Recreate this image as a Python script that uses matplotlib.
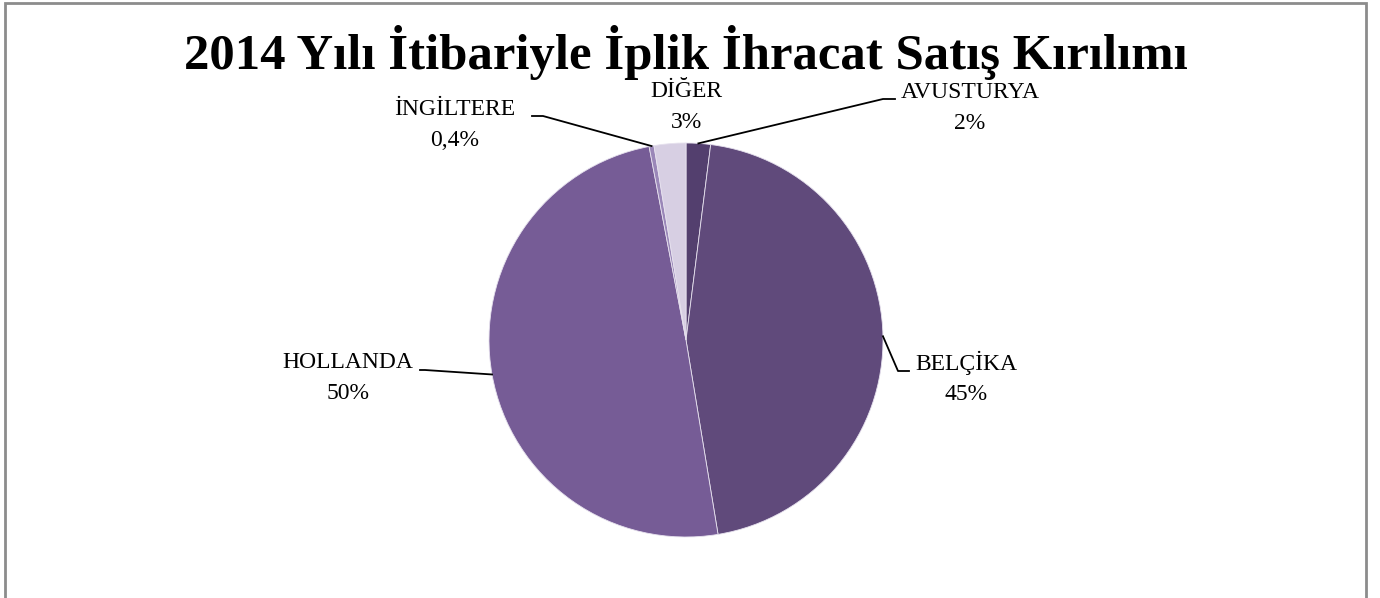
import numpy as np
import matplotlib.pyplot as plt

# slice data, clockwise from 12 o'clock
countries = ['AVUSTURYA', 'BELÇİKA', 'HOLLANDA', 'İNGİLTERE', 'DİĞER']
shares = [2.0, 45.4, 49.6, 0.4, 2.6]
share_labels = ['2%', '45%', '50%', '0,4%', '3%']
colors = ['#533f6e', '#604a7b', '#765c96', '#9a87b8', '#d7cfe3']

title = '2014 Yılı İtibariyle İplik İhracat Satış Kırılımı'

W, H = 1380, 598
fig = plt.figure(figsize=(W / 100, H / 100), dpi=100)
ax = fig.add_axes([0, 0, 1, 1])

cx, cy, r = 686, H - 340, 197
ax.pie(shares, colors=colors, startangle=90, counterclock=False,
       center=(cx, cy), radius=r, frame=True,
       wedgeprops=dict(edgecolor='#e6e1ee', linewidth=0.6))
ax.set_xlim(0, W)
ax.set_ylim(0, H)
ax.set_aspect('equal')
ax.axis('off')

# outer border (no bottom edge visible)
bx = [5, 5, 1366, 1366]
by = [-5, H - 3, H - 3, -5]
ax.plot(bx, by, color='#8c8c8c', lw=2, solid_joinstyle='miter')

font = 'Liberation Serif'
ax.text(686, H - 52, title, ha='center', va='center', fontsize=36.5,
        fontweight='bold', family=font)

# label centres (image pixels) and leader line elbows
label_pos = [(970, 108), (966, 378), (348, 378), (455, 125), (686, 107)]
elbows = [[(895, 99), (883, 99)],
          [(909, 371), (898, 371)],
          [(420, 370), (425, 370)],
          [(532, 116), (543, 116)],
          None]

cum = np.cumsum([0] + shares)
for i, name in enumerate(countries):
    lx, ly = label_pos[i]
    ax.text(lx, H - ly, name + '\n' + share_labels[i], ha='center',
            va='center', fontsize=17, family=font, linespacing=1.6)
    if elbows[i] is None:
        continue
    mid = (cum[i] + cum[i + 1]) / 2 / 100.0
    ang = np.deg2rad(90 - mid * 360)
    ex, ey = cx + r * np.cos(ang), cy + r * np.sin(ang)
    xs = [p[0] for p in elbows[i]] + [ex]
    ys = [H - p[1] for p in elbows[i]] + [ey]
    ax.plot(xs, ys, color='black', lw=1.3)

fig.savefig('out.png', dpi=100)
